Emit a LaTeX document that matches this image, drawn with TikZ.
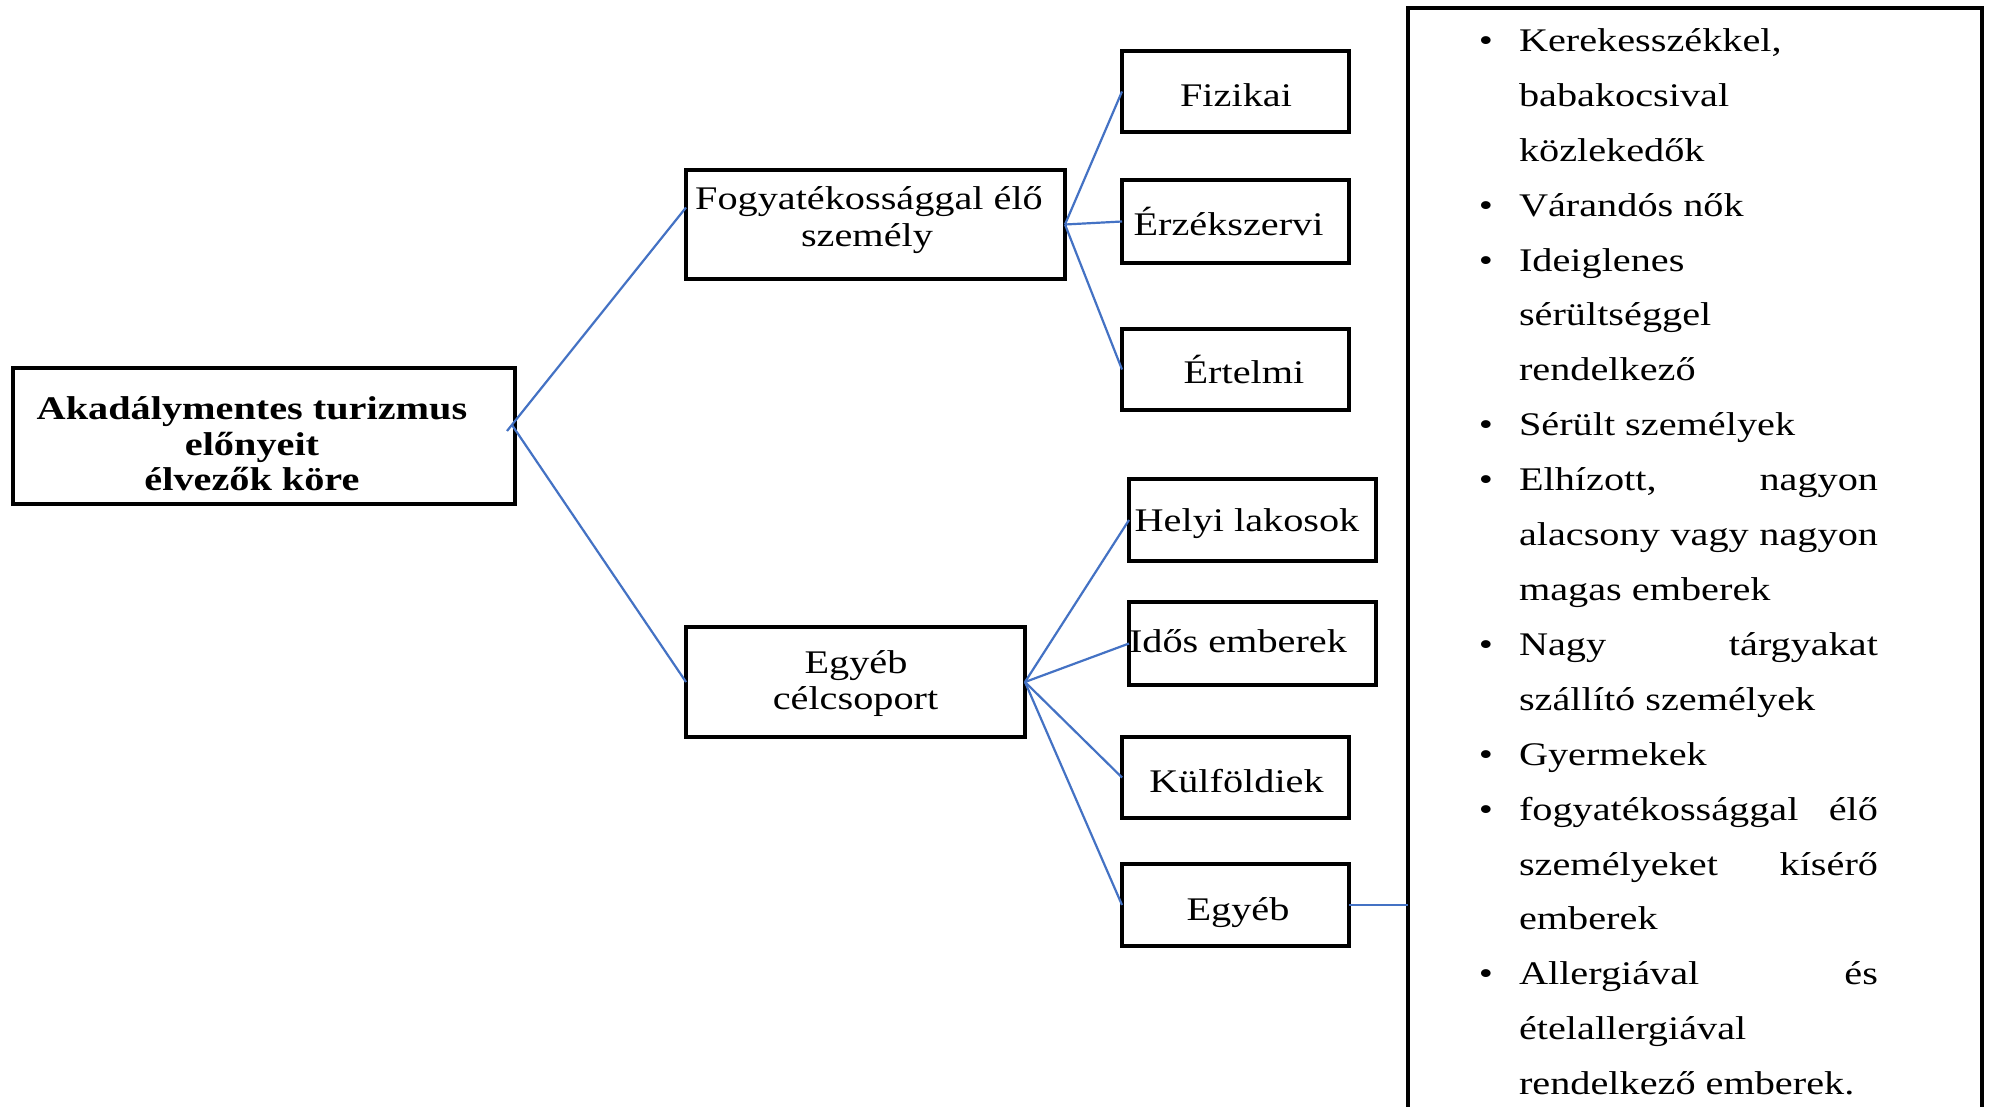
\documentclass[tikz,border=0pt]{standalone}
\usepackage{fontspec}
\setmainfont{Liberation Serif}[FakeStretch=1.22]
\definecolor{conblue}{RGB}{68,114,196}
\begin{document}
\begin{tikzpicture}[x=1pt,y=-1pt,
  box/.style={draw=black,line width=3.2pt,rectangle,inner sep=0pt,outer sep=0pt},
  con/.style={draw=conblue,line width=2.2pt},
  txt/.style={font=\fontsize{33}{36}\selectfont,inner sep=0pt,outer sep=0pt,anchor=base},
  ltxt/.style={txt,anchor=base west},
  bul/.style={txt,anchor=base}]
\clip (0,0) rectangle (1992,1107);
\fill[white] (0,0) rectangle (1992,1107);

% boxes
\node[box,minimum width=502pt,minimum height=136pt] (root) at (264,436) {};
\node[box,minimum width=379pt,minimum height=109pt] (fogy) at (875.5,224.5) {};
\node[box,minimum width=339pt,minimum height=110pt] (ecs) at (855.5,682) {};
\node[box,minimum width=227pt,minimum height=81pt] (fiz) at (1235.5,91.5) {};
\node[box,minimum width=227pt,minimum height=83pt] (erz) at (1235.5,221.5) {};
\node[box,minimum width=227pt,minimum height=81pt] (ert) at (1235.5,369.5) {};
\node[box,minimum width=247pt,minimum height=82pt] (hely) at (1252.5,520) {};
\node[box,minimum width=247pt,minimum height=83pt] (idos) at (1252.5,643.5) {};
\node[box,minimum width=227pt,minimum height=81pt] (kulf) at (1235.5,777.5) {};
\node[box,minimum width=227pt,minimum height=82pt] (egy) at (1235.5,905) {};
\node[box,minimum width=574pt,minimum height=1132pt] (list) at (1695,574) {};

% box texts
\node[txt,font=\fontsize{33}{36}\selectfont\bfseries] (root1) at (252,419.5) {Akadálymentes turizmus};
\node[txt,font=\fontsize{33}{36}\selectfont\bfseries] (root2) at (252,455) {előnyeit};
\node[txt,font=\fontsize{33}{36}\selectfont\bfseries] (root3) at (252,490.5) {élvezők köre};
\node[txt] (fogy1) at (869,210) {Fogyatékossággal élő};
\node[txt] (fogy2) at (867,247) {személy};
\node[txt] (ecs1) at (856,673.5) {Egyéb};
\node[txt] (ecs2) at (855.5,709.5) {célcsoport};
\node[txt] (fizT) at (1236,107) {Fizikai};
\node[txt] (erzT) at (1228.5,235.5) {Érzékszervi};
\node[txt] (ertT) at (1244,383) {Értelmi};
\node[txt] (helyT) at (1247,531) {Helyi lakosok};
\node[txt] (idosT) at (1238,652.5) {Idős emberek};
\node[txt] (kulfT) at (1236.5,792.5) {Külföldiek};
\node[txt] (egyT) at (1238,920) {Egyéb};

% connectors
\draw[con] ([xshift=-8pt,yshift=5pt]root.east) -- ([yshift=17pt]fogy.west);
\draw[con] ([xshift=-3pt,yshift=11pt]root.east) -- (ecs.west);
\draw[con] (fogy.east) -- (fiz.west);
\draw[con] (fogy.east) -- (erz.west);
\draw[con] (fogy.east) -- (ert.west);
\draw[con] (ecs.east) -- (hely.west);
\draw[con] (ecs.east) -- (idos.west);
\draw[con] (ecs.east) -- (kulf.west);
\draw[con] (ecs.east) -- (egy.west);
\draw[con] (egy.east) -- (egy.east -| list.west);

% list
\foreach \i/\t in {
  1/{Kerekesszékkel,},
  2/{babakocsival},
  3/{közlekedők},
  4/{Várandós nők},
  5/{Ideiglenes},
  6/{sérültséggel},
  7/{rendelkező},
  8/{Sérült személyek},
  9/{\makebox[359pt][s]{Elhízott, nagyon}},
  10/{\makebox[359pt][s]{alacsony vagy nagyon}},
  11/{magas emberek},
  12/{\makebox[359pt][s]{Nagy tárgyakat}},
  13/{szállító személyek},
  14/{Gyermekek},
  15/{\makebox[359pt][s]{fogyatékossággal élő}},
  16/{\makebox[359pt][s]{személyeket kísérő}},
  17/{emberek},
  18/{\makebox[359pt][s]{Allergiával és}},
  19/{ételallergiával},
  20/{rendelkező emberek.}}{
  \node[ltxt] (l\i) at (1519,{51.5+(\i-1)*54.9}) {\t};
}
\foreach \i in {1,4,5,8,9,12,14,15,18}{
  \node[bul] (b\i) at (1486,{51.5+(\i-1)*54.9}) {•};
}
\end{tikzpicture}
\end{document}
